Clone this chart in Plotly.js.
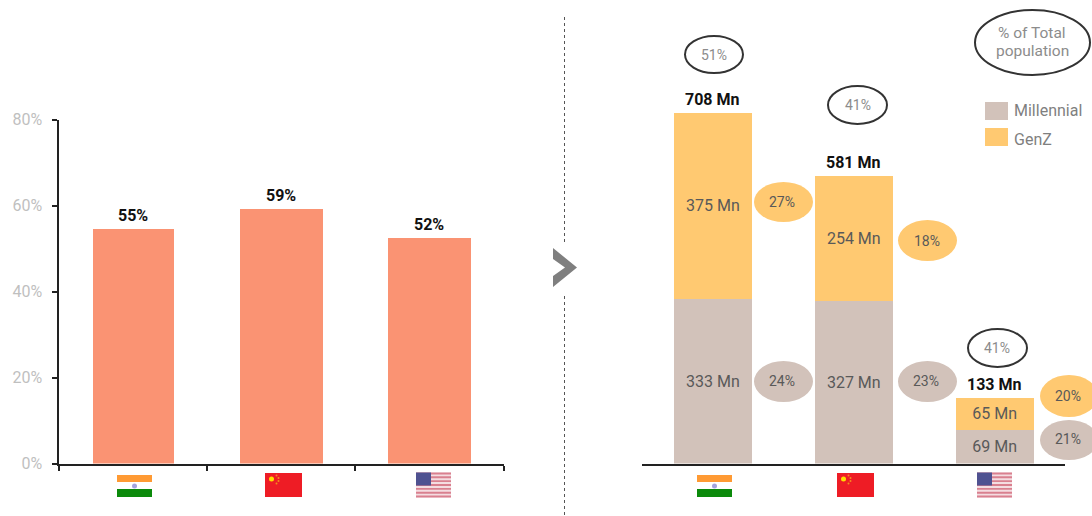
<!DOCTYPE html>
<html>
<head>
<meta charset="utf-8">
<script src="https://cdn.plot.ly/plotly-3.0.1.min.js"></script>
<style>html,body{margin:0;padding:0;background:#fff;overflow:hidden}#chart{width:1092px;height:516px}</style>
</head>
<body>
<div id="chart"></div>
<script>
// ---- Data ----
var countries = ['India', 'China', 'USA'];
var youthShareValues = [54.5, 59.2, 52.5];
var youthShareLabels = ['55%', '59%', '52%'];
var yTickValues = [0, 20, 40, 60, 80];
var yTickLabels = ['0%', '20%', '40%', '60%', '80%'];
var millennialValues = [333, 327, 68];
var genzValues = [375, 254, 65];
var totalValues = [708, 581, 133];
var millennialLabels = ['333 Mn', '327 Mn', '69 Mn'];
var genzLabels = ['375 Mn', '254 Mn', '65 Mn'];
var totalLabels = ['708 Mn', '581 Mn', '133 Mn'];
var totalShareLabels = ['51%', '41%', '41%'];
var genzShareLabels = ['27%', '18%', '20%'];
var millennialShareLabels = ['24%', '23%', '21%'];

// ---- Page helpers ----
var W = 1092, H = 516, FONT = 'Roboto, Arial, sans-serif';
var CORAL = '#FA9373', GENZ = '#FFC971', MILL = '#D2C2BA';
function px(x) { return x / W; }
function py(y) { return 1 - y / H; }
var shapes = [], annotations = [];
function rect(x0, y0, x1, y1, fill) {
  shapes.push({type: 'rect', xref: 'paper', yref: 'paper', x0: px(x0), x1: px(x1), y0: py(y0), y1: py(y1),
    fillcolor: fill, line: {width: 0}, layer: 'above'});
}
function oval(x0, y0, x1, y1, fill, stroke) {
  shapes.push({type: 'circle', xref: 'paper', yref: 'paper', x0: px(x0), x1: px(x1), y0: py(y0), y1: py(y1),
    fillcolor: fill || 'rgba(0,0,0,0)', line: stroke ? {color: stroke, width: 2} : {width: 0}, layer: 'above'});
}
function label(x, y, text, size, color, anchor) {
  annotations.push({xref: 'paper', yref: 'paper', x: px(x), y: py(y), text: text, showarrow: false,
    xanchor: anchor || 'center', yanchor: 'middle', align: 'center', borderpad: 0, borderwidth: 0,
    font: {family: FONT, size: size, color: color}});
}
function barLabel(xref, yref, x, y, text) {
  annotations.push({xref: xref, yref: yref, x: x, y: y, yshift: 13.5, text: text, showarrow: false,
    xanchor: 'center', yanchor: 'middle', font: {family: FONT, size: 16, color: '#111111', weight: 700}});
}
function flagIndia(x) {
  rect(x, 475, x + 35, 482, '#FF9A33');
  rect(x, 489, x + 35, 497, '#0B8A0B');
  oval(x + 15, 483.5, x + 20, 488.5, '#A5A3DC');
}
function flagChina(x) {
  rect(x, 473, x + 37, 497, '#EE1C25');
  oval(x + 4, 476.5, x + 9, 481.5, '#FFDE00');
  [[11.5, 475.5], [13.5, 478], [13.5, 481], [11.5, 483.5]].forEach(function (p) {
    oval(x + p[0] - 1, p[1] - 1, x + p[0] + 1, p[1] + 1, '#F58A1F');
  });
}
function flagUSA(x) {
  var h = 25 / 13;
  rect(x, 472.5, x + 35, 497.5, '#F4DDE1');
  for (var i = 0; i < 13; i += 2) {
    rect(x, 472.5 + i * h, x + 35, 472.5 + (i + 1) * h, '#D9808F');
  }
  rect(x, 472.5, x + 15, 485.5, '#4F5291');
}

// Flags
flagIndia(117); flagChina(265); flagUSA(416);
flagIndia(697); flagChina(837); flagUSA(977);

// Divider and chevron
shapes.push({type: 'line', xref: 'paper', yref: 'paper', x0: px(564.5), x1: px(564.5), y0: py(17), y1: py(243),
  line: {color: '#555555', width: 1, dash: '3px,3px'}});
shapes.push({type: 'line', xref: 'paper', yref: 'paper', x0: px(564.5), x1: px(564.5), y0: py(296), y1: py(515),
  line: {color: '#555555', width: 1, dash: '3px,3px'}});
var chevron = [[553, 248], [577, 267.5], [553, 287], [553, 276], [565, 267.5], [553, 259]];
shapes.push({type: 'path', xref: 'paper', yref: 'paper',
  path: chevron.map(function (p, i) { return (i ? 'L' : 'M') + px(p[0]) + ',' + py(p[1]); }).join(' ') + ' Z',
  fillcolor: '#7F7F7F', line: {width: 0}});

// Outlined share ovals
var OUTLINE = '#333333', OUTLINE_TEXT = '#8C8C8C', FILLED_TEXT = '#595959';
oval(685, 36, 743, 73, null, OUTLINE); label(714, 55, totalShareLabels[0], 14, OUTLINE_TEXT);
oval(828, 86, 887, 124, null, OUTLINE); label(857.5, 105, totalShareLabels[1], 14, OUTLINE_TEXT);
oval(968, 329, 1027, 367, null, OUTLINE); label(997, 348, totalShareLabels[2], 14, OUTLINE_TEXT);

// Filled share ovals
oval(754, 182, 813, 222, GENZ); label(782, 202, genzShareLabels[0], 14, FILLED_TEXT);
oval(898, 220, 957, 261, GENZ); label(926.5, 241, genzShareLabels[1], 14, FILLED_TEXT);
oval(1040, 375, 1098, 417, GENZ); label(1068, 396, genzShareLabels[2], 14, FILLED_TEXT);
oval(754, 361, 813, 402, MILL); label(782, 381, millennialShareLabels[0], 14, FILLED_TEXT);
oval(898, 361, 957, 402, MILL); label(926, 381, millennialShareLabels[1], 14, FILLED_TEXT);
oval(1040, 420, 1098, 460, MILL); label(1068, 439, millennialShareLabels[2], 14, FILLED_TEXT);

// Legend key
oval(975, 10, 1090, 75, null, OUTLINE);
label(1032, 33, '% of Total', 15.5, OUTLINE_TEXT);
label(1032, 51, 'population', 15.5, OUTLINE_TEXT);
rect(985, 102, 1008, 120, MILL);
rect(985, 128, 1008, 146, GENZ);
label(1014, 111, 'Millennial', 16, '#7F7F7F', 'left');
label(1014, 139, 'GenZ', 16, '#7F7F7F', 'left');

// Value labels above bars
countries.forEach(function (c, i) {
  barLabel('x', 'y', c, youthShareValues[i], youthShareLabels[i]);
  barLabel('x2', 'y2', c, totalValues[i], totalLabels[i]);
});

var traces = [
  {type: 'bar', x: countries, y: youthShareValues, xaxis: 'x', yaxis: 'y',
    width: [0.55, 0.56, 0.56], marker: {color: CORAL}, hoverinfo: 'skip', showlegend: false},
  {type: 'bar', name: 'Millennial', x: countries, y: millennialValues, text: millennialLabels, xaxis: 'x2', yaxis: 'y2',
    width: 0.554, marker: {color: MILL}, textposition: 'inside', insidetextanchor: 'middle', constraintext: 'none',
    textangle: 0, textfont: {family: FONT, size: 16, color: '#595959'}, hoverinfo: 'skip', showlegend: false},
  {type: 'bar', name: 'GenZ', x: countries, y: genzValues, text: genzLabels, xaxis: 'x2', yaxis: 'y2',
    width: 0.554, marker: {color: GENZ}, textposition: 'inside', insidetextanchor: 'middle', constraintext: 'none',
    textangle: 0, textfont: {family: FONT, size: 16, color: '#595959'}, hoverinfo: 'skip', showlegend: false}
];

var layout = {
  width: W, height: H, margin: {l: 0, r: 0, t: 0, b: 0, pad: 0},
  paper_bgcolor: '#fff', plot_bgcolor: 'rgba(0,0,0,0)',
  font: {family: FONT}, showlegend: false, barmode: 'stack',
  xaxis: {domain: [px(58.5), px(503.5)], anchor: 'y', type: 'category', categoryorder: 'array', categoryarray: countries,
    range: [-0.505, 2.5], showticklabels: false, ticks: 'outside', tickson: 'boundaries', ticklen: 5, tickwidth: 2, tickcolor: '#222222',
    showline: true, linewidth: 2, linecolor: '#222222', showgrid: false, zeroline: false, fixedrange: true},
  yaxis: {domain: [py(463.5), py(119.5)], anchor: 'x', range: [0, 80], tickmode: 'array', tickvals: yTickValues, ticktext: yTickLabels,
    ticks: 'outside', ticklen: 5, tickwidth: 2, tickcolor: '#222222', ticklabelstandoff: 6,
    tickfont: {family: FONT, size: 16, color: '#BFBFBF'},
    showline: true, linewidth: 2, linecolor: '#222222', showgrid: false, zeroline: false, fixedrange: true},
  xaxis2: {domain: [px(642), px(1065)], anchor: 'y2', type: 'category', categoryorder: 'array', categoryarray: countries,
    range: [-0.504, 2.5], showticklabels: false, ticks: '',
    showline: true, linewidth: 2, linecolor: '#222222', showgrid: false, zeroline: false, fixedrange: true},
  yaxis2: {domain: [py(463.5), py(63.5)], anchor: 'x2', range: [0, 400 / 0.4955], visible: false, fixedrange: true},
  shapes: shapes,
  annotations: annotations
};
Plotly.newPlot('chart', traces, layout, {displayModeBar: false, responsive: false, staticPlot: true});
</script>
</body>
</html>
